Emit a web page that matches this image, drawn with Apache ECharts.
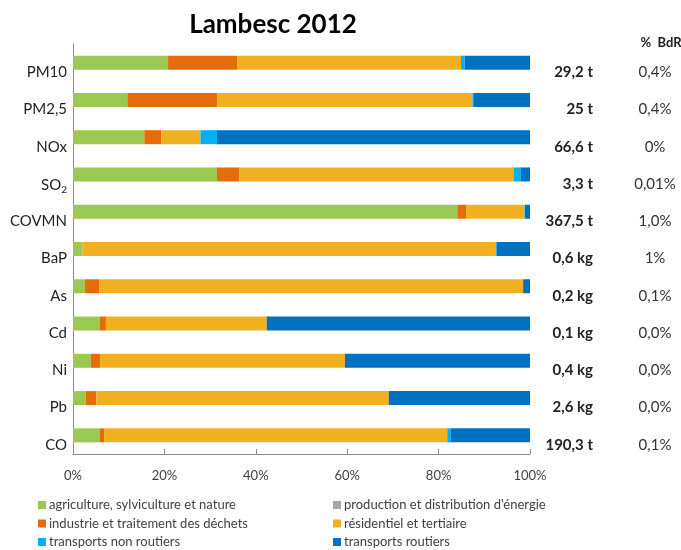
<!DOCTYPE html>
<html>
<head>
<meta charset="utf-8">
<script src="https://cdn.jsdelivr.net/npm/echarts@6/dist/echarts.min.js"></script>
<style>html,body{margin:0;padding:0;background:#fff}#c{width:681px;height:550px}</style>
</head>
<body>
<div id="c"></div>
<script>
var categories = ['PM10','PM2,5','NOx','SO2','COVMN','BaP','As','Cd','Ni','Pb','CO'];
var quantities = ['29,2 t','25 t','66,6 t','3,3 t','367,5 t','0,6 kg','0,2 kg','0,1 kg','0,4 kg','2,6 kg','190,3 t'];
var shareBdR = ['0,4%','0,4%','0%','0,01%','1,0%','1%','0,1%','0,0%','0,0%','0,0%','0,1%'];
var xTicks = [0,20,40,60,80,100];

var agriculture = [20.8, 11.9, 15.6, 31.5, 84.1, 2.1, 2.6, 5.9, 3.9, 2.8, 5.9];
var production  = [0, 0, 0, 0, 0, 0, 0, 0, 0, 0, 0];
var industrie   = [15.1, 19.6, 3.7, 4.9, 1.9, 0, 3.1, 1.3, 2.0, 2.3, 0.9];
var residentiel = [49.0, 55.9, 8.6, 60.0, 12.8, 90.4, 92.8, 35.2, 53.6, 64.0, 75.1];
var nonRoutiers = [0.8, 0.2, 3.6, 1.6, 0.1, 0.2, 0, 0, 0, 0, 0.8];
var routiers    = [14.3, 12.4, 68.5, 2.0, 1.1, 7.3, 1.5, 57.6, 40.5, 30.9, 17.3];

var seriesNames = ['agriculture, sylviculture et nature','production et distribution d\'énergie','industrie et traitement des déchets','résidentiel et tertiaire','transports non routiers','transports routiers'];
var seriesData = [agriculture, production, industrie, residentiel, nonRoutiers, routiers];
var colors = ['#9BC850','#A5A5A5','#E46C0A','#F0B020','#00B0F0','#0070C0'];

var FONT = 'Lato, "Open Sans", sans-serif';
var chart = echarts.init(document.getElementById('c'));

function catLabel(v){
  if (v === 'SO2') return 'SO{sub|2}';
  return v;
}

var series = seriesNames.map(function(n,i){
  return {
    name: n, type: 'bar', stack: 'total', barWidth: 14,
    yAxisIndex: 0,
    itemStyle: {color: colors[i]},
    data: seriesData[i]
  };
});

function sideAxis(labels, margin, align, bold){
  return {
    type: 'category', data: categories, inverse: true, position: 'right',
    axisLine: {show: false}, axisTick: {show: false}, splitLine: {show: false},
    axisLabel: {
      margin: margin, align: align, verticalAlign: 'top', padding: [2,0,0,0],
      fontSize: 15, fontWeight: bold ? 'bold' : 'normal', color: bold ? '#222' : '#333', fontFamily: FONT,
      formatter: function(v, idx){ return labels[idx]; }
    }
  };
}

var legendText = {fontSize: 13, color: '#404040', fontFamily: FONT, lineHeight: 14, padding: [0,0,0,-2]};

chart.setOption({
  animation: false,
  textStyle: {fontFamily: FONT},
  title: [{
    text: 'Lambesc 2012', left: 268, top: 7, textAlign: 'center',
    textStyle: {fontFamily: FONT, fontSize: 26, fontWeight: 'bold', color: '#000'}
  },{
    text: '%  BdR', left: 656, top: 31, textAlign: 'center',
    textStyle: {fontFamily: FONT, fontSize: 13, fontWeight: 'bold', color: '#222'}
  }],
  grid: {left: 73, right: 151, top: 44, bottom: 96},
  xAxis: {
    type: 'value', min: xTicks[0], max: xTicks[xTicks.length-1], interval: xTicks[1]-xTicks[0],
    axisLine: {show: true, lineStyle: {color: '#8C8C8C'}},
    axisTick: {show: true, inside: true, length: 5, lineStyle: {color: '#8C8C8C'}},
    splitLine: {show: false},
    axisLabel: {formatter: '{value}%', margin: 15, fontSize: 13, color: '#404040', fontFamily: FONT}
  },
  yAxis: [{
    type: 'category', data: categories, inverse: true,
    axisLine: {show: true, lineStyle: {color: '#8C8C8C'}},
    axisTick: {show: false},
    axisLabel: {
      margin: 6, fontSize: 15, color: '#222', fontFamily: FONT,
      verticalAlign: 'top', padding: [2,0,0,0],
      formatter: catLabel,
      rich: {sub: {fontSize: 10, verticalAlign: 'bottom', padding: [8,0,0,0], color: '#222', fontFamily: FONT}}
    }
  },
  sideAxis(quantities, 63, 'right', true),
  sideAxis(shareBdR, 125, 'center', false)
  ],
  legend: [{
    orient: 'vertical', left: 38, top: 498, height: 52, padding: 0, itemWidth: 8, itemHeight: 8, itemGap: 4.5, icon: 'rect',
    data: [seriesNames[0], seriesNames[2], seriesNames[4]],
    textStyle: legendText
  },{
    orient: 'vertical', left: 333, top: 498, height: 52, padding: 0, itemWidth: 8, itemHeight: 8, itemGap: 4.5, icon: 'rect',
    data: [seriesNames[1], seriesNames[3], seriesNames[5]],
    textStyle: legendText
  }],
  series: series
});
</script>
</body>
</html>
